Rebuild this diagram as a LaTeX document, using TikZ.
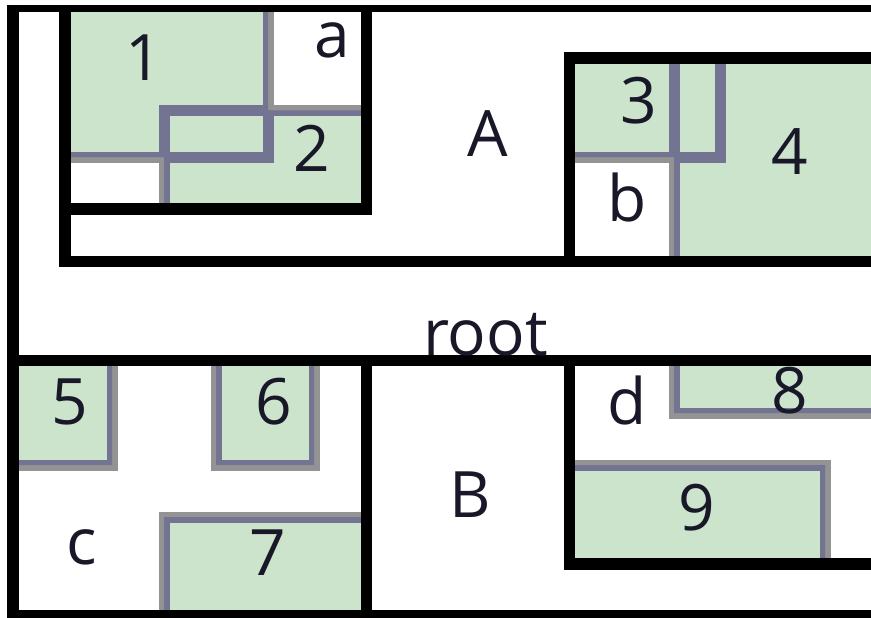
\documentclass[tikz,border=0pt]{standalone}
\usepackage{fontspec}
\setmainfont{Open Sans}
\definecolor{rgreen}{RGB}{204,227,204}
\definecolor{rpurple}{RGB}{114,116,146}
\definecolor{rgray}{RGB}{147,147,147}
\definecolor{rtext}{RGB}{24,24,40}
\begin{document}
\begin{tikzpicture}[x=1pt,y=-1pt,
  lbl/.style={anchor=base,inner sep=0pt,text=rtext,font=\fontsize{64}{70}\selectfont},
  blk/.style={draw=black,line width=11.5pt,line cap=rect,line join=miter},
  edgegray/.style={draw=rgray,line width=11pt},
  edgepurple/.style={draw=rpurple,line width=11pt},
  greenfill/.style={fill=rgreen}]
\useasboundingbox (0,0) rectangle (871,618);
\begin{scope}
\clip (7,6) rectangle (900,640);
% green fills
\fill[greenfill] (65,6) rectangle (268,157);
\fill[greenfill] (164,110.5) rectangle (366.5,209);
\fill[greenfill] (569.5,58) rectangle (720,157);
\fill[greenfill] (674,58) rectangle (900,261.5);
\fill[greenfill] (13,360.5) rectangle (112,465);
\fill[greenfill] (216,360.5) rectangle (314,465);
\fill[greenfill] (164,517) rectangle (366.5,616);
\fill[greenfill] (674,360.5) rectangle (900,413);
\fill[greenfill] (569.5,465) rectangle (825,564);
% gray outer borders
\draw[edgegray] (65,6) rectangle (268,157);
\draw[edgegray] (164,110.5) rectangle (366.5,209);
\draw[edgegray] (569.5,58) rectangle (720,157);
\draw[edgegray] (674,58) rectangle (900,261.5);
\draw[edgegray] (13,360.5) rectangle (112,465);
\draw[edgegray] (216,360.5) rectangle (314,465);
\draw[edgegray] (164,517) rectangle (366.5,616);
\draw[edgegray] (674,360.5) rectangle (900,413);
\draw[edgegray] (569.5,465) rectangle (825,564);
% purple borders, only over green areas
\begin{scope}
\clip (65,6) rectangle (268,157)
      (164,110.5) rectangle (366.5,209)
      (569.5,58) rectangle (720,157)
      (674,58) rectangle (900,261.5)
      (13,360.5) rectangle (112,465)
      (216,360.5) rectangle (314,465)
      (164,517) rectangle (366.5,616)
      (674,360.5) rectangle (900,413)
      (569.5,465) rectangle (825,564);
\draw[edgepurple] (65,6) rectangle (268,157);
\draw[edgepurple] (164,110.5) rectangle (366.5,209);
\draw[edgepurple] (569.5,58) rectangle (720,157);
\draw[edgepurple] (674,58) rectangle (900,261.5);
\draw[edgepurple] (13,360.5) rectangle (112,465);
\draw[edgepurple] (216,360.5) rectangle (314,465);
\draw[edgepurple] (164,517) rectangle (366.5,616);
\draw[edgepurple] (674,360.5) rectangle (900,413);
\draw[edgepurple] (569.5,465) rectangle (825,564);
\end{scope}
% black node boxes
\draw[blk] (900,6) -- (13,6) -- (13,616) -- (900,616);
\draw[blk] (65,6) -- (65,261.5) -- (900,261.5);
\draw[blk] (65,209) -- (366.5,209) -- (366.5,6);
\draw[blk] (900,58) -- (569.5,58) -- (569.5,261.5);
\draw[blk] (13,360.5) -- (900,360.5);
\draw[blk] (366.5,360.5) -- (366.5,616);
\draw[blk] (569.5,360.5) -- (569.5,564) -- (900,564);
\end{scope}
% labels
\node[lbl] (t1) at (144,81) {1};
\node[lbl] (ta) at (332,58) {a};
\node[lbl] (t2) at (312,171) {2};
\node[lbl] (tA) at (488,157) {A};
\node[lbl] (t3) at (639,124) {3};
\node[lbl] (t4) at (790,174) {4};
\node[lbl] (tb) at (627,221) {b};
\node[lbl] (troot) at (485.5,355) {root};
\node[lbl] (t5) at (70,424) {5};
\node[lbl] (t6) at (273.5,424) {6};
\node[lbl] (td) at (627,424) {d};
\node[lbl] (t8) at (790,413) {8};
\node[lbl] (tc) at (82,564) {c};
\node[lbl] (t7) at (268,575) {7};
\node[lbl] (tB) at (470,517) {B};
\node[lbl] (t9) at (697,530) {9};
\end{tikzpicture}
\end{document}
